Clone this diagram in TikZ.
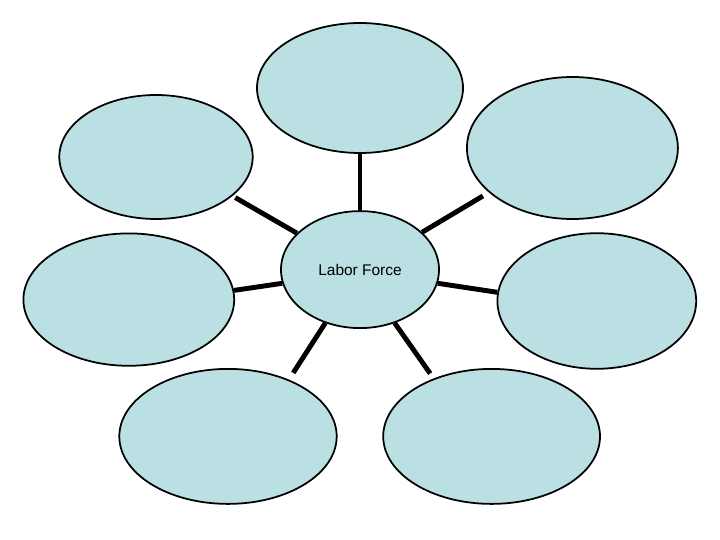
\documentclass[tikz,border=0pt]{standalone}
\usepackage{fontspec}
\setmainfont{Liberation Sans}
\usepackage{tikz}
\usetikzlibrary{shapes.geometric, calc, positioning}
\definecolor{bubblefill}{RGB}{187,224,227}
\tikzstyle{bubble} = [ellipse, draw=black, line width=1.25pt, fill=bubblefill, inner sep=0pt, text centered]
\tikzstyle{spoke} = [line width=3.5pt, line cap=butt]

\begin{document}
\begin{tikzpicture}
  \useasboundingbox (0,0) rectangle (18,13.5);

  \node (labor) [bubble, minimum width=3.95cm, minimum height=2.925cm] at (9,6.76) {\fontsize{11}{13}\selectfont Labor Force};

  \node (top) [bubble, minimum width=5.15cm, minimum height=3.25cm] at (9,11.3) {};
  \node (topleft) [bubble, minimum width=4.835cm, minimum height=3.1cm] at (3.9,9.575) {};
  \node (topright) [bubble, minimum width=5.275cm, minimum height=3.55cm] at (14.31,9.8) {};
  \node (left) [bubble, minimum width=5.27cm, minimum height=3.31cm] at (3.22,6.01) {};
  \node (right) [bubble, minimum width=4.97cm, minimum height=3.39cm] at (14.92,5.975) {};
  \node (botleft) [bubble, minimum width=5.435cm, minimum height=3.375cm] at (5.7,2.59) {};
  \node (botright) [bubble, minimum width=5.42cm, minimum height=3.375cm] at (12.29,2.59) {};

  \draw [spoke] (labor.north) -- (top.south);
  \draw [spoke, shorten >=0.08cm] (labor.150) -- (topleft.-27);
  \draw [spoke, shorten >=0.17cm] (labor.31) -- (topright.208);
  \draw [spoke] (labor.190) -- (left.5);
  \draw [spoke] (labor.-10) -- (right.175);
  \draw [spoke, shorten >=0.2cm] (labor.237) -- (botleft.43);
  \draw [spoke, shorten >=0.15cm] (labor.-57) -- (botright.135);
\end{tikzpicture}
\end{document}
